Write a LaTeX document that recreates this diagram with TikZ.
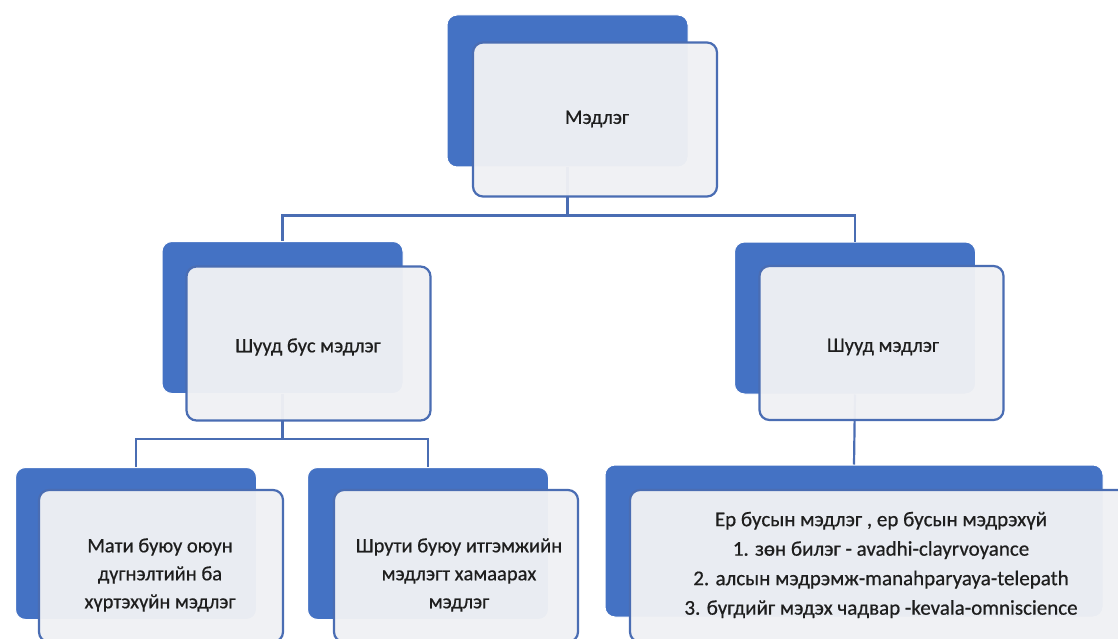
\documentclass[tikz,border=0pt]{standalone}
\usepackage{fontspec}
\setmainfont{Carlito}
\newfontfamily\labelfont{Carlito}[FakeBold=0.6]

\definecolor{sablue}{HTML}{4472C4}
\definecolor{saedge}{HTML}{4A6DB3}
\definecolor{safill}{HTML}{F0F1F4}
\definecolor{saink}{HTML}{1E1E1E}

\tikzset{
  backbox/.style={draw=white, line width=1pt, fill=sablue, rounded corners=10pt,
    minimum width=241pt, minimum height=152pt, inner sep=0pt},
  frontbox/.style={draw=saedge, line width=2.2pt, fill=safill, fill opacity=0.96,
    rounded corners=10pt, minimum width=244pt, minimum height=154pt, inner sep=0pt},
  link/.style={draw=saedge, line width=2.2pt},
  lbl/.style={text=saink, font=\labelfont\fontsize{20.5}{28}\selectfont, align=center}
}

\begin{document}
\begin{tikzpicture}[x=1pt,y=-1pt]
  \useasboundingbox (0,0) rectangle (1118,639);
  \fill[white] (0,0) rectangle (1118,639);

  % back panels
  \node[backbox] (rootb) at (567.5,91) {};
  \node[backbox] (indb) at (282.5,317.5) {};
  \node[backbox] (dirb) at (855,318) {};
  \node[backbox] (matib) at (136,543.5) {};
  \node[backbox] (shrutib) at (428,543.5) {};
  \node[backbox, minimum width=498pt] (extb) at (854,541) {};

  % connectors
  \draw[link] (rootb.south) -- ++(0,48) -| (indb.north);
  \draw[link] (rootb.south) -- ++(0,48) -| (dirb.north);
  \draw[link] (indb.south) -- ++(0,45) -| (matib.north);
  \draw[link] (indb.south) -- ++(0,45) -| (shrutib.north);
  \draw[link] (dirb.south) -- (extb.north);

  % front panels
  \node[frontbox] (root) at (595,119.5) {};
  \node[frontbox] (ind) at (308.5,343.5) {};
  \node[frontbox] (dir) at (881.5,343) {};
  \node[frontbox, minimum height=152pt] (mati) at (161,566) {};
  \node[frontbox, minimum height=152pt] (shruti) at (456,566) {};
  \node[frontbox, minimum width=500pt, minimum height=152pt] (ext) at (880,566) {};

  % texts
  \node[lbl] (troot) at (597,119) {Мэдлэг};
  \node[lbl] (tind) at (308,347) {Шууд бус мэдлэг};
  \node[lbl] (tdir) at (883,347) {Шууд мэдлэг};
  \node[lbl] (tmati) at (160,575) {Мати буюу оюун\\дүгнэлтийн ба\\хүртэхүйн мэдлэг};
  \node[lbl] (tshruti) at (459,575) {Шрути буюу итгэмжийн\\мэдлэгт хамаарах\\мэдлэг};
  \node[lbl, font=\labelfont\fontsize{21}{29.5}\selectfont] (text) at (881,565)
    {Ер бусын мэдлэг , ер бусын мэдрэхүй\\1. зөн билэг - avadhi-clayrvoyance\\2. алсын мэдрэмж-manahparyaya-telepath\\3. бүгдийг мэдэх чадвар -kevala-omniscience};
\end{tikzpicture}
\end{document}
